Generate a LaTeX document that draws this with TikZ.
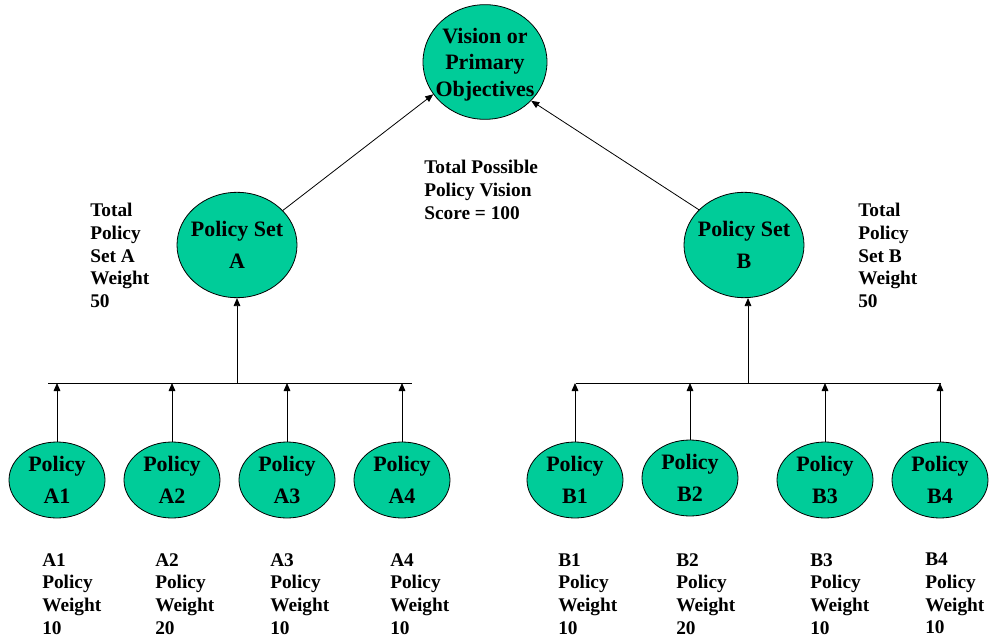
\documentclass[tikz,border=0pt]{standalone}
\usepackage{fontspec}
\setmainfont{Liberation Serif}
\usetikzlibrary{shapes.geometric,arrows.meta}
\definecolor{goal}{RGB}{0,204,153}
\tikzset{
  bubble/.style={ellipse, draw=black, fill=goal, line width=0.6pt, inner sep=0pt,
    align=center, font=\fontsize{16.5}{23.5}\selectfont\bfseries},
  bubbletext/.style={align=center, inner sep=0pt,
    font=\fontsize{16.5}{23.5}\selectfont\bfseries},
  leaf/.style={bubble, minimum width=72pt, minimum height=57pt},
  setnode/.style={bubble, minimum width=90pt, minimum height=79pt},
  note/.style={anchor=north west, align=left, inner sep=0pt,
    font=\fontsize{14.5}{17}\selectfont\bfseries},
  arr/.style={-{Triangle[length=6pt,width=5pt]}, line width=0.6pt},
  bar/.style={line width=0.6pt}
}
\begin{document}
\begin{tikzpicture}[x=0.75pt, y=-0.75pt]
\useasboundingbox (0,0) rectangle (990,638);

% top level objective
\node[bubble, minimum width=93pt, minimum height=86pt,
  label={[bubbletext, font=\fontsize{16.5}{20}\selectfont\bfseries, yshift=-2pt]center:Vision or\\Primary\\Objectives}]
  (vision) at (485,62) {};

% policy sets
\node[setnode, label={[bubbletext]center:Policy Set\\A}] (setA) at (237,245) {};
\node[setnode, label={[bubbletext]center:Policy Set\\B}] (setB) at (744,245) {};

% individual policies
\node[leaf] (pA1) at (57,480)  {Policy\\A1};
\node[leaf] (pA2) at (172,480) {Policy\\A2};
\node[leaf] (pA3) at (287,480) {Policy\\A3};
\node[leaf] (pA4) at (402,480) {Policy\\A4};
\node[leaf] (pB1) at (575,480) {Policy\\B1};
\node[leaf] (pB2) at (690,478) {Policy\\B2};
\node[leaf] (pB3) at (825,480) {Policy\\B3};
\node[leaf] (pB4) at (940,480) {Policy\\B4};

% collector bars
\coordinate (barAL) at (48,383);
\coordinate (barAR) at (412,383);
\coordinate (barBL) at (576,383);
\coordinate (barBR) at (941,383);
\draw[bar] (barAL) -- (barAR);
\draw[bar] (barBL) -- (barBR);

% policies feed the bars
\foreach \p in {pA1,pA2,pA3,pA4}
  \draw[arr] (\p.north) -- (\p.north |- barAL);
\foreach \p in {pB1,pB2,pB3,pB4}
  \draw[arr] (\p.north) -- (\p.north |- barBL);

% bars feed the sets
\draw[arr] (setA.south |- barAL) -- (setA.south);
\draw[arr] ([xshift=3pt]setB.south |- barBL) -- ([xshift=3pt]setB.south);

% sets feed the vision
\draw[arr] (setA.37) -- (vision.212);
\draw[arr] (setB.142) -- (vision.320);

% annotations
\node[note] (totA) at (90,203) {Total\\Policy\\Set A\\Weight\\50};
\node[note] (totB) at (858,203) {Total\\Policy\\Set B\\Weight\\50};
\node[note] (score) at (424,160) {Total Possible\\Policy Vision\\Score = 100};

\node[note] (wA1) at (42,553)  {A1\\Policy\\Weight\\10};
\node[note] (wA2) at (155,553) {A2\\Policy\\Weight\\20};
\node[note] (wA3) at (270,553) {A3\\Policy\\Weight\\10};
\node[note] (wA4) at (390,553) {A4\\Policy\\Weight\\10};
\node[note] (wB1) at (558,553) {B1\\Policy\\Weight\\10};
\node[note] (wB2) at (676,553) {B2\\Policy\\Weight\\20};
\node[note] (wB3) at (810,553) {B3\\Policy\\Weight\\10};
\node[note] (wB4) at (925,553) {B4\\Policy\\Weight\\10};
\end{tikzpicture}
\end{document}
